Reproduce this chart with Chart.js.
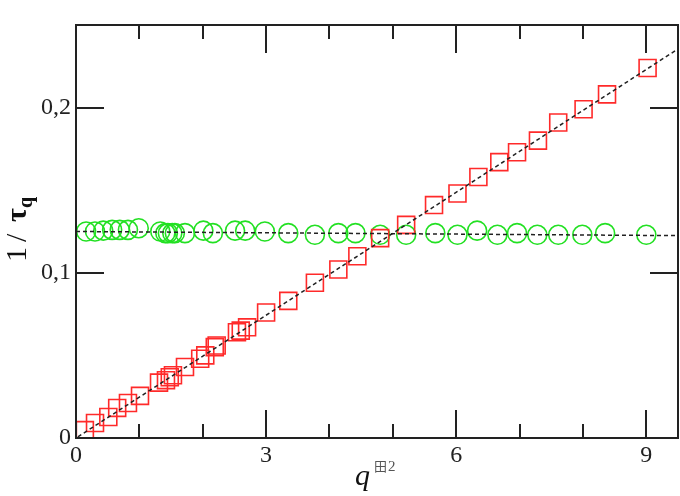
<!DOCTYPE html>
<html>
<head>
<meta charset="utf-8">
<script src="https://cdn.jsdelivr.net/npm/chart.js@4.4.1/dist/chart.umd.min.js"></script>
<style>
  html, body { margin: 0; padding: 0; background: #fff; }
</style>
</head>
<body>
<canvas id="chart" width="680" height="496"></canvas>
<script>
// red squares
const redX = [0.14, 0.30, 0.51, 0.65, 0.82, 1.01, 1.31, 1.42, 1.48, 1.53, 1.72, 1.96, 2.04, 2.19, 2.22,
  2.54, 2.60, 2.70, 3.00, 3.35, 3.77, 4.14, 4.44, 4.80, 5.21, 5.65, 6.02, 6.35, 6.68, 6.96, 7.29,
  7.61, 8.01, 8.38, 9.02];
const redY = [0.0048, 0.0091, 0.0127, 0.0182, 0.0212, 0.0255, 0.0335, 0.0350, 0.0368, 0.0380, 0.0430,
  0.0480, 0.0500, 0.0550, 0.0560, 0.0640, 0.0650, 0.0670, 0.0760, 0.0830, 0.0940, 0.1020, 0.1100,
  0.1210, 0.1290, 0.1410, 0.1480, 0.1580, 0.1670, 0.1730, 0.1800, 0.1910, 0.1990, 0.2080, 0.2240];

// green circles
const greenX = [0.16, 0.30, 0.43, 0.57, 0.69, 0.82, 0.99, 1.33, 1.41, 1.45, 1.52, 1.56, 1.72, 2.01, 2.16,
  2.51, 2.67, 2.98, 3.35, 3.77, 4.14, 4.41, 4.80, 5.21, 5.67, 6.02, 6.33, 6.65, 6.96, 7.28, 7.61,
  7.99, 8.35, 9.00];
const greenY = [0.1250, 0.1250, 0.1255, 0.1260, 0.1260, 0.1260, 0.1270, 0.1250, 0.1240, 0.1240, 0.1240,
  0.1240, 0.1240, 0.1255, 0.1240, 0.1255, 0.1255, 0.1250, 0.1240, 0.1230, 0.1240, 0.1240, 0.1230,
  0.1230, 0.1240, 0.1230, 0.1255, 0.1230, 0.1240, 0.1230, 0.1230, 0.1230, 0.1240, 0.1230];

// dashed fit lines (end points)
const fitRedX = [0.03, 9.5];
const fitRedY = [0.0007, 0.2355];
const fitGreenX = [0, 9.5];
const fitGreenY = [0.1250, 0.1225];

const xTickLabels = [0, 3, 6, 9];
const yTickLabels = [0, 0.1, 0.2];

const pts = (xs, ys) => xs.map((v, i) => ({ x: v, y: ys[i] }));
const serif = "Liberation Serif";

// inward ticks on all four sides + frame + axis titles
const frameTicks = {
  id: "frameTicks",
  afterDatasetsDraw(chart) {
    const { ctx, chartArea: a, scales: { x, y } } = chart;
    ctx.save();
    ctx.strokeStyle = "#222";
    ctx.lineWidth = 2;
    ctx.beginPath();
    x.ticks.forEach(t => {
      const px = Math.round(x.getPixelForValue(t.value));
      const len = xTickLabels.includes(t.value) ? 28 : 14;
      ctx.moveTo(px, a.bottom); ctx.lineTo(px, a.bottom - len);
      ctx.moveTo(px, a.top); ctx.lineTo(px, a.top + len);
    });
    y.ticks.forEach(t => {
      const py = Math.round(y.getPixelForValue(t.value));
      ctx.moveTo(a.left, py); ctx.lineTo(a.left + 28, py);
      ctx.moveTo(a.right, py); ctx.lineTo(a.right - 28, py);
    });
    ctx.stroke();
    ctx.strokeRect(a.left, a.top, a.right - a.left, a.bottom - a.top);

    // y title: 1/τq
    ctx.fillStyle = "#111";
    ctx.translate(26, 262);
    ctx.rotate(-Math.PI / 2);
    ctx.textBaseline = "alphabetic";
    ctx.font = "30px 'Liberation Serif'";
    ctx.fillText("1", 0, 0);
    ctx.fillText("/", 20, 0);
    ctx.font = "bold 30px 'Liberation Serif'";
    ctx.fillText("τ", 40, 0);
    ctx.font = "bold 20px 'Liberation Serif'";
    ctx.fillText("q", 54, 6);
    ctx.restore();

    // x title: q^田2
    ctx.save();
    ctx.fillStyle = "#111";
    ctx.font = "italic 30px 'Liberation Serif'";
    ctx.fillText("q", 355, 485);
    ctx.fillStyle = "#555";
    ctx.font = "13px 'Noto Sans CJK SC'";
    ctx.fillText("田", 374, 471);
    ctx.font = "15px 'Liberation Serif'";
    ctx.fillText("2", 388, 471);
    ctx.restore();
  }
};

function draw() {
  new Chart(document.getElementById("chart"), {
    type: "scatter",
    data: {
      datasets: [
        {
          type: "line",
          data: pts(fitRedX, fitRedY),
          borderColor: "#222",
          borderWidth: 1.5,
          borderDash: [4, 3],
          pointRadius: 0,
          fill: false
        },
        {
          type: "line",
          data: pts(fitGreenX, fitGreenY),
          borderColor: "#222",
          borderWidth: 1.5,
          borderDash: [4, 3],
          pointRadius: 0,
          fill: false
        },
        {
          data: pts(redX, redY),
          pointStyle: "rect",
          pointRadius: 12,
          borderColor: "#ff2a2a",
          borderWidth: 1.6,
          backgroundColor: "rgba(0,0,0,0)"
        },
        {
          data: pts(greenX, greenY),
          pointStyle: "circle",
          pointRadius: 9.5,
          borderColor: "#22e022",
          borderWidth: 1.6,
          backgroundColor: "rgba(0,0,0,0)"
        }
      ]
    },
    options: {
      responsive: false,
      animation: false,
      events: [],
      layout: { autoPadding: false, padding: { top: 25, right: 2, left: 0, bottom: 0 } },
      plugins: { legend: { display: false }, tooltip: { enabled: false } },
      scales: {
        x: {
          type: "linear",
          min: 0,
          max: 9.5,
          grid: { display: false, drawTicks: false },
          border: { display: false },
          ticks: {
            stepSize: 1,
            includeBounds: false,
            autoSkip: false,
            maxRotation: 0,
            padding: 3,
            color: "#222",
            font: { family: serif, size: 24 },
            callback: v => (xTickLabels.includes(v) ? String(v) : "")
          },
          afterFit: s => { s.height = 58; s.paddingLeft = 0; s.paddingRight = 0; }
        },
        y: {
          type: "linear",
          min: 0,
          max: 0.25,
          grid: { display: false, drawTicks: false },
          border: { display: false },
          ticks: {
            stepSize: 0.1,
            includeBounds: false,
            padding: 5,
            color: "#222",
            font: { family: serif, size: 24 },
            callback: v => {
              const k = yTickLabels.findIndex(t => Math.abs(t - v) < 1e-9);
              if (k < 0) return "";
              return yTickLabels[k] === 0 ? "0" : yTickLabels[k].toFixed(1).replace(".", ",");
            }
          },
          afterFit: s => { s.width = 76; s.paddingTop = 0; s.paddingBottom = 0; }
        }
      }
    },
    plugins: [frameTicks]
  });
}

Promise.all([
  document.fonts.load("24px 'Liberation Serif'"),
  document.fonts.load("bold 30px 'Liberation Serif'"),
  document.fonts.load("italic 30px 'Liberation Serif'"),
  document.fonts.load("13px 'Noto Sans CJK SC'", "田")
]).then(draw, draw);
</script>
</body>
</html>
